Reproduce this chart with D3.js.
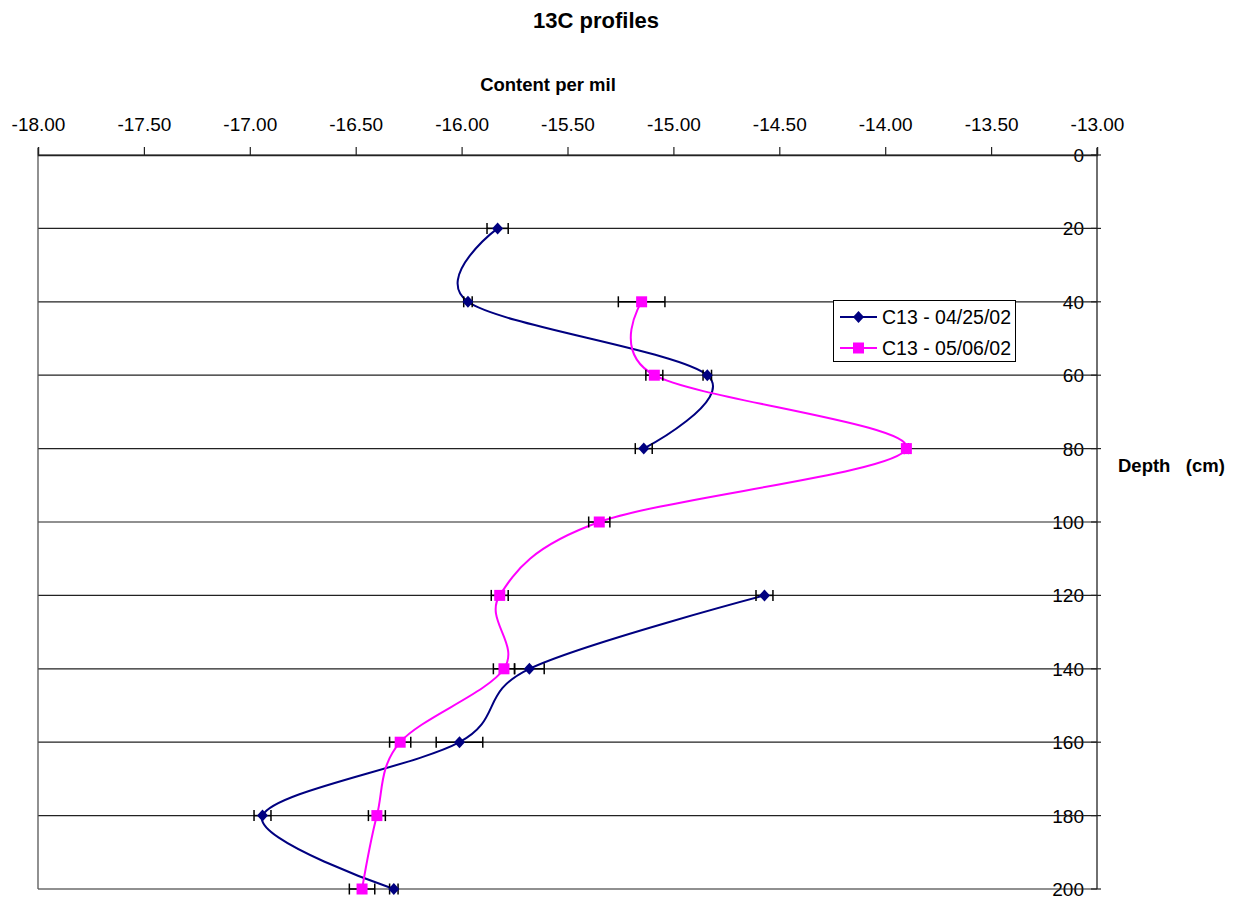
<!DOCTYPE html>
<html>
<head>
<meta charset="utf-8">
<script src="https://cdn.jsdelivr.net/npm/d3@7"></script>
<style>
  html, body { margin: 0; padding: 0; background: #fff; }
  svg { display: block; font-family: "Liberation Sans", Arial, sans-serif; }
</style>
</head>
<body>
<svg id="chart" width="1240" height="897"></svg>
<script>
// ---------- data ----------
const depths = [20, 40, 60, 80, 100, 120, 140, 160, 180, 200];
const seriesNames = ["C13 - 04/25/02", "C13 - 05/06/02"];
const c13_0425 = [-15.83, -15.97, -14.84, -15.14, null, -14.57, -15.68, -16.01, -16.94, -16.32];
const err_0425 = [0.05, 0.02, 0.02, 0.04, null, 0.04, 0.07, 0.11, 0.04, 0.02];
const c13_0506 = [null, -15.15, -15.09, -13.90, -15.35, -15.82, -15.80, -16.29, -16.40, -16.47];
const err_0506 = [null, 0.11, 0.04, 0.01, 0.05, 0.04, 0.05, 0.05, 0.04, 0.06];
const xTicks = [-18, -17.5, -17, -16.5, -16, -15.5, -15, -14.5, -14, -13.5, -13];
const yTicks = [0, 20, 40, 60, 80, 100, 120, 140, 160, 180, 200];
const colors = ["#000080", "#FF00FF"];

// ---------- layout ----------
const svg = d3.select("#chart");
const x = d3.scaleLinear().domain([-18, -13]).range([38, 1097]);
const y = d3.scaleLinear().domain([0, 200]).range([155, 889]);
const fmtX = d => d3.format(".2f")(d).replace("\u2212", "-");

// title
svg.append("text").attr("x", 596).attr("y", 28).attr("text-anchor", "middle")
  .attr("font-size", 22).attr("font-weight", "bold").text("13C profiles");
svg.append("text").attr("x", 548).attr("y", 91).attr("text-anchor", "middle")
  .attr("font-size", 18.5).attr("font-weight", "bold").text("Content per mil");
svg.append("text").attr("x", 1118).attr("y", 472).attr("font-size", 18.5)
  .attr("font-weight", "bold").attr("xml:space", "preserve").style("white-space", "pre")
  .text("Depth   (cm)");

// right-axis labels (drawn under gridlines)
const yAxisG = svg.append("g").attr("transform", "translate(1097,0)")
  .call(d3.axisLeft(y).tickValues(yTicks).tickSize(0).tickPadding(13).tickFormat(d3.format("d")));
yAxisG.select(".domain").remove();
yAxisG.selectAll("text").attr("font-size", 19).attr("fill", "#000")
  .attr("font-family", "Liberation Sans, Arial, sans-serif").attr("dy", 6.5);

// gridlines
svg.append("g").selectAll("line").data(yTicks).join("line")
  .attr("x1", 38).attr("x2", 1097).attr("y1", d => y(d)).attr("y2", d => y(d))
  .attr("stroke", "#222").attr("stroke-width", 1.2);

// right tick marks
svg.append("g").selectAll("line").data(yTicks).join("line")
  .attr("x1", 1091).attr("x2", 1101).attr("y1", d => y(d)).attr("y2", d => y(d))
  .attr("stroke", "#222").attr("stroke-width", 1.2);
// right axis line
svg.append("line").attr("x1", 1097).attr("x2", 1097).attr("y1", 148).attr("y2", 889)
  .attr("stroke", "#222").attr("stroke-width", 1.3);
// left border line
svg.append("line").attr("x1", 38).attr("x2", 38).attr("y1", 148).attr("y2", 889)
  .attr("stroke", "#555").attr("stroke-width", 1.3);

// top axis
const xAxisG = svg.append("g").attr("transform", "translate(0,155)")
  .call(d3.axisTop(x).tickValues(xTicks).tickSize(8).tickPadding(16).tickFormat(fmtX));
xAxisG.select(".domain").attr("stroke", "#222").attr("stroke-width", 1.3);
xAxisG.selectAll(".tick line").attr("stroke", "#222").attr("stroke-width", 1.2);
xAxisG.selectAll("text").attr("font-size", 19).attr("fill", "#000")
  .attr("font-family", "Liberation Sans, Arial, sans-serif");

// ---------- series ----------
const series = [
  { name: seriesNames[0], vals: c13_0425, errs: err_0425, color: colors[0], marker: "diamond" },
  { name: seriesNames[1], vals: c13_0506, errs: err_0506, color: colors[1], marker: "square" }
];

const line = d3.line()
  .defined(d => d.v !== null)
  .x(d => x(d.v)).y(d => y(d.depth))
  .curve(d3.curveCardinal.tension(0));

function drawMarker(g, type, cx, cy, color) {
  if (type === "diamond") {
    g.append("path").attr("d", `M${cx},${cy - 6}L${cx + 5.5},${cy}L${cx},${cy + 6}L${cx - 5.5},${cy}Z`)
      .attr("fill", color);
  } else {
    g.append("rect").attr("x", cx - 5.5).attr("y", cy - 5.5).attr("width", 11).attr("height", 11)
      .attr("fill", color);
  }
}

series.forEach(s => {
  const pts = depths.map((dep, i) => ({ depth: dep, v: s.vals[i], e: s.errs[i] }));
  svg.append("path").datum(pts).attr("d", line)
    .attr("fill", "none").attr("stroke", s.color).attr("stroke-width", 2);
});

series.forEach(s => {
  const g = svg.append("g");
  depths.forEach((dep, i) => {
    const v = s.vals[i];
    if (v === null) return;
    const e = s.errs[i];
    const cy = y(dep);
    const x0 = x(v - e), x1 = x(v + e);
    g.append("line").attr("x1", x0).attr("x2", x1).attr("y1", cy).attr("y2", cy)
      .attr("stroke", "#000").attr("stroke-width", 1.5);
    [x0, x1].forEach(xx => g.append("line").attr("x1", xx).attr("x2", xx)
      .attr("y1", cy - 5.5).attr("y2", cy + 5.5).attr("stroke", "#000").attr("stroke-width", 1.5));
  });
  depths.forEach((dep, i) => {
    const v = s.vals[i];
    if (v === null) return;
    drawMarker(g, s.marker, x(v), y(dep), s.color);
  });
});

// ---------- legend ----------
const lg = svg.append("g");
lg.append("rect").attr("x", 833.5).attr("y", 300.5).attr("width", 182).attr("height", 61)
  .attr("fill", "#fff").attr("stroke", "#000").attr("stroke-width", 1);
series.forEach((s, i) => {
  const cy = 317 + i * 31;
  lg.append("line").attr("x1", 840).attr("x2", 877).attr("y1", cy).attr("y2", cy)
    .attr("stroke", s.color).attr("stroke-width", 2);
  drawMarker(lg, s.marker, 858.5, cy, s.color);
  lg.append("text").attr("x", 882).attr("y", cy + 7).attr("font-size", 19.5).text(s.name);
});
</script>
</body>
</html>
